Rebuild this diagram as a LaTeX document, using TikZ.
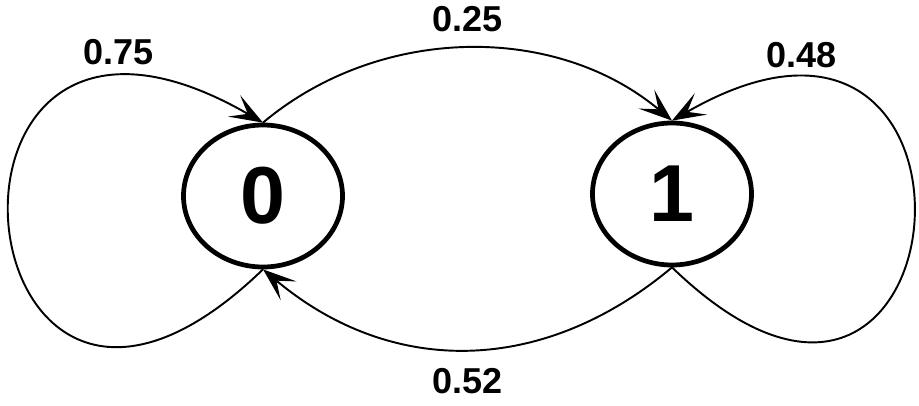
\documentclass[tikz,border=0pt]{standalone}
\usepackage{fontspec}
\setmainfont{Liberation Sans}
\usepackage{tikz}
\usetikzlibrary{arrows.meta,shapes.geometric}
\tikzset{
  statenode/.style={ellipse,draw=black,fill=white,minimum width=3.18cm,
    minimum height=2.84cm,inner sep=0pt,line width=2.7pt,
    font=\fontsize{46}{50}\selectfont\bfseries},
  probedge/.style={-{Stealth[length=19pt,width=14pt,inset=9pt]},line width=1.1pt,color=black},
  problabel/.style={font=\fontsize{20.5}{24}\selectfont\bfseries,inner sep=2pt},
}
\begin{document}
\begin{tikzpicture}
  \useasboundingbox (0,0) rectangle (18.38,8.1);
  \node[statenode] (s0) at (5.26,4.18) {0};
  \node[statenode] (s1) at (13.44,4.22) {1};
  % self loops
  \draw[probedge] (s0.south) .. controls +(224:8.5) and +(150:8.5) .. (s0.north)
    node[problabel,pos=0.84,above=6pt] {0.75};
  \draw[probedge] (s1.south) .. controls +(-44:8.2) and +(30:8.0) .. (s1.north)
    node[problabel,pos=0.85,above=5pt] {0.48};
  % between states
  \draw[probedge] (s0.north) to[out=40,in=140,looseness=0.95]
    node[problabel,above=7pt] {0.25} (s1.north);
  \draw[probedge] (s1.south) to[out=220,in=-40,looseness=1.05]
    node[problabel,below=8pt] {0.52} (s0.south);
\end{tikzpicture}
\end{document}
